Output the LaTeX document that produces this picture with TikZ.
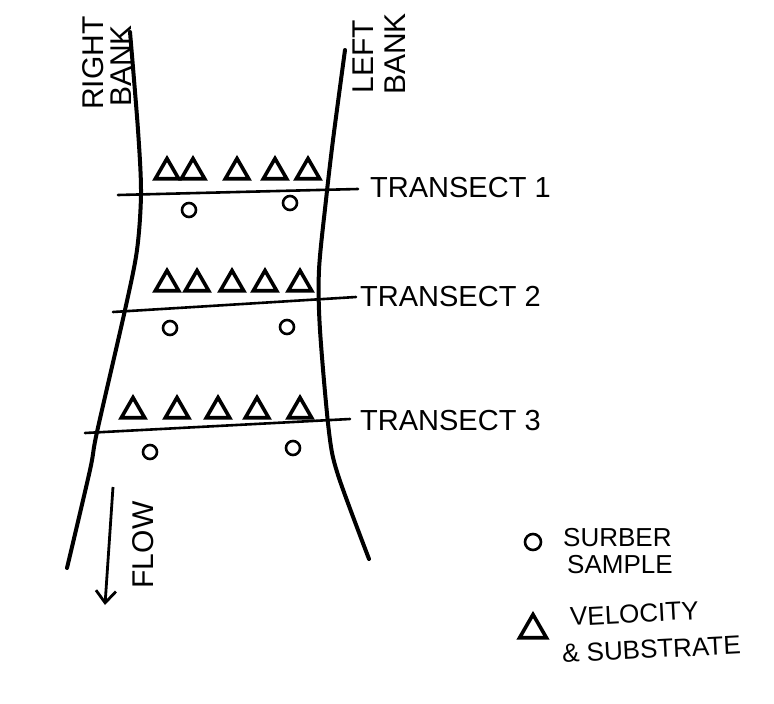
\documentclass[tikz,border=0pt]{standalone}
\usepackage{fontspec}
\setmainfont{Liberation Sans}
\usetikzlibrary{shapes.geometric,arrows.meta}
\begin{document}
\begin{tikzpicture}[x=1pt,y=-1pt,
 bank/.style={line width=4pt,line cap=round,line join=round},
 tline/.style={line width=2.6pt,line cap=round},
 tri/.style={regular polygon,regular polygon sides=3,draw,line width=3.6pt,minimum size=27pt,inner sep=0pt},
 samp/.style={circle,draw,line width=2.6pt,minimum size=14pt,inner sep=0pt},
 lab/.style={font=\fontsize{29}{29}\selectfont,inner sep=0pt,anchor=west},
 vlab/.style={font=\fontsize{30}{30}\selectfont,inner sep=0pt,rotate=90},
 leg/.style={font=\fontsize{26}{27}\selectfont,inner sep=0pt},
]
\useasboundingbox[fill=white] (0,0) rectangle (774,704);
% banks
\draw[bank] plot[smooth] coordinates {(130,32) (138,130) (141,193) (137,250) (125,310) (97,432) (90,470) (67,568)};
\draw[bank] plot[smooth] coordinates {(345,50) (333,140) (326,200) (319,270) (320,330) (329,432) (338,475) (369,559)};
% bank labels
\node[vlab] (right) at (93,63) {RIGHT};
\node[vlab] (rbank) at (121,66) {BANK};
\node[vlab] (left) at (363,57) {LEFT};
\node[vlab] (lbank) at (395,54) {BANK};
% transect labels
\node[lab] (t1) at (370,188) {TRANSECT 1};
\node[lab] (t2) at (360,297) {TRANSECT 2};
\node[lab] (t3) at (360,421) {TRANSECT 3};
% transect lines
\coordinate (a1) at (118,195);
\coordinate (a2) at (113,312);
\coordinate (a3) at (85,433);
\draw[tline] (a1) -- ([xshift=-12pt,yshift=-1pt]t1.west);
\draw[tline] (a2) -- ([xshift=-4pt]t2.west);
\draw[tline] (a3) -- ([xshift=-10pt,yshift=2pt]t3.west);
% triangles
\foreach \x [count=\i] in {167,193,237,275,308} {\node[tri] (p1\i) at (\x,172) {};}
\foreach \x [count=\i] in {167,197,232,265,300} {\node[tri] (p2\i) at (\x,284) {};}
\foreach \x [count=\i] in {133,177,218,257,300} {\node[tri] (p3\i) at (\x,411) {};}
% circles
\node[samp] (c11) at (189,210) {};
\node[samp] (c12) at (290,203) {};
\node[samp] (c21) at (170,328) {};
\node[samp] (c22) at (287,327) {};
\node[samp] (c31) at (150,452) {};
\node[samp] (c32) at (293,448) {};
% flow
\coordinate (f0) at (113,487);
\coordinate (f1) at (105,605);
\draw[line width=2.8pt,-{Straight Barb[length=12pt,width=20pt]}] (f0) -- (f1);
\node[vlab] (flow) at (143,545) {FLOW};
% legend
\node[samp,minimum size=16pt] (lc) at (533,542) {};
\node[leg,anchor=west] (l1) at (563,538) {SURBER};
\node[leg,anchor=west] (l2) at (567,565) {SAMPLE};
\node[tri,minimum size=31pt] (lt) at (533,630) {};
\node[leg,rotate=3,anchor=west] (l3) at (570,617) {VELOCITY};
\node[leg,rotate=3,anchor=west] (l4) at (562,654) {\& SUBSTRATE};
\end{tikzpicture}
\end{document}
